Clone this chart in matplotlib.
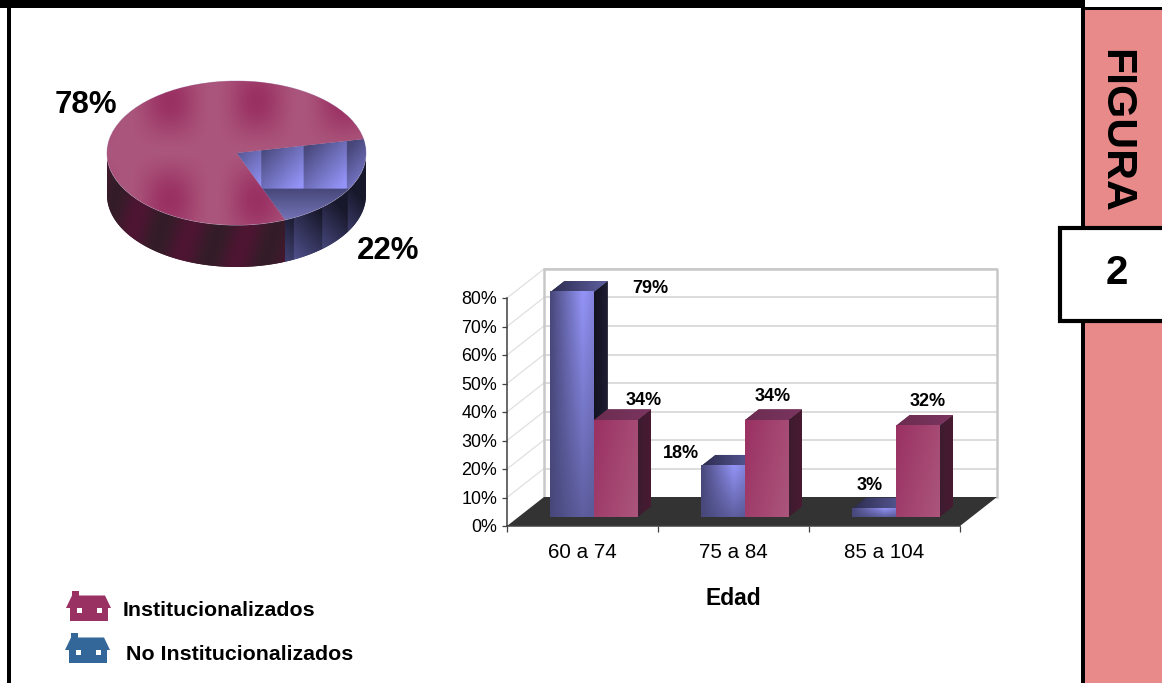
import numpy as np
import matplotlib
matplotlib.use("Agg")
import matplotlib.pyplot as plt
from matplotlib.colors import to_rgb
from matplotlib.patches import Polygon, Rectangle

plt.rcParams['font.family'] = ['Liberation Sans', 'DejaVu Sans']

# data
PIE_VALUES = [22, 78]
PIE_LABELS = ['22%', '78%']
AGE_GROUPS = ['60 a 74', '75 a 84', '85 a 104']
NO_INST = [79, 18, 3]
INST = [34, 34, 32]
Y_TICKS = [0, 10, 20, 30, 40, 50, 60, 70, 80]
LEGEND_NAMES = ['Institucionalizados', 'No Institucionalizados']

W, H = 1162, 683
PINK = '#e88a8a'
BLUE_D, BLUE_L = '#47477a', '#9494f8'
RED_D, RED_L = '#9a3163', '#ab567c'


def lerp(c0, c1, t):
    c0, c1 = np.array(to_rgb(c0)), np.array(to_rgb(c1))
    return c0 + np.clip(t, 0, 1)[..., None] * (c1 - c0)


def px_axes(left, top, right, bottom):
    return fig.add_axes([left / W, 1 - bottom / H, (right - left) / W, (bottom - top) / H])


fig = plt.figure(figsize=(W / 100, H / 100), dpi=100, facecolor='white')

# frame and side panel
bg = fig.add_axes([0, 0, 1, 1], zorder=0)
bg.set_xlim(0, W)
bg.set_ylim(H, 0)
bg.axis('off')
bg.add_patch(Rectangle((1085, 8), 77, H - 8, fc=PINK, ec='none'))
bg.add_patch(Rectangle((0, 0), 1085, 8, fc='black', ec='none'))
bg.add_patch(Rectangle((1085, 7), 77, 3, fc='black', ec='none'))
bg.add_patch(Rectangle((7, 0), 4, H, fc='black', ec='none'))
bg.add_patch(Rectangle((1081, 0), 4, H, fc='black', ec='none'))
bg.add_patch(Rectangle((1060, 227.5), 110, 93, fc='white', ec='black', lw=3))
bg.text(1115, 130.5, 'FIGURA', rotation=-90, fontsize=30.8, fontweight='bold', ha='center', va='center')
bg.text(1117, 273, '2', fontsize=29, fontweight='bold', ha='center', va='center')


def house(x, y, color):
    bg.add_patch(Rectangle((x + 6, y), 7, 5, fc=color, ec='none'))
    bg.add_patch(Polygon([(x, y + 17), (x + 6, y + 4.5), (x + 39, y + 4.5), (x + 45, y + 17)],
                         fc=color, ec='none'))
    bg.add_patch(Rectangle((x + 4, y + 17), 38, 13, fc=color, ec='none'))
    for wx in (x + 11, x + 31):
        bg.add_patch(Rectangle((wx, y + 17), 4.5, 4.5, fc='white', ec='none'))


house(66, 591, '#9a3163')
house(65, 633, '#336699')
bg.text(123, 610, LEGEND_NAMES[0], fontsize=15.4, fontweight='bold', va='center')
bg.text(126, 654, LEGEND_NAMES[1], fontsize=15.4, fontweight='bold', va='center')

# pie, unit circle squeezed to an ellipse by the axes shape
PIE_CX, PIE_CY, PIE_RX, PIE_RY = 236.5, 153, 129.5, 72
PIE_DEPTH = 42 / PIE_RY
ax_pie = px_axes(PIE_CX - PIE_RX, PIE_CY - PIE_RY, PIE_CX + PIE_RX, PIE_CY + PIE_RY + 42)
ax_pie.patch.set_alpha(0)
ax_pie.set_zorder(1)
wedges, _ = ax_pie.pie(PIE_VALUES, startangle=-68, colors=[BLUE_D, RED_D], radius=1,
                       wedgeprops={'edgecolor': '#c8bcd8', 'linewidth': 0.6, 'zorder': 3})
ax_pie.set_aspect('auto')


def pie_image(func, patch, z):
    ext = (-1.02, 1.02, -1.02 - PIE_DEPTH, 1.02)
    u = np.linspace(ext[0], ext[1], 300)
    v = np.linspace(ext[3], ext[2], 300)
    uu, vv = np.meshgrid(u, v)
    im = ax_pie.imshow(func(PIE_CX + uu * PIE_RX, PIE_CY - vv * PIE_RY), extent=ext,
                       aspect='auto', interpolation='bilinear', zorder=z)
    im.set_clip_path(patch)
    im.set_clip_box(fig.bbox)


def red_top(X, Y):
    fx = 0.5 + 0.5 * np.cos(2 * np.pi * (X - 170) / 87)
    fy = 0.5 + 0.5 * np.cos(2 * np.pi * (Y - 101) / 100)
    return lerp(RED_L, RED_D, fx * fy ** 0.8)


def blue_top(X, Y):
    edges = np.array([261, 304, 347])
    i = np.searchsorted(edges, X)
    x0 = np.where(i == 0, 225, edges[np.clip(i - 1, 0, 2)])
    t = 0.6 * (X - x0) / 43 + 0.5 * (Y - 150) / 39
    img = lerp(BLUE_D, BLUE_L, t)
    low = lerp('#47477a', '#7474b8', (Y - 189) / 32)
    img[Y > 189] = low[Y > 189]
    return img


def red_side(X, Y):
    return lerp('#331d28', '#4e1532', 0.5 + 0.5 * np.cos(2 * np.pi * (X - 133 + 0.3 * (Y - 230)) / 57))


def blue_side(X, Y):
    edges = np.array([294, 322, 348])
    i = np.searchsorted(edges, X)
    x1 = edges[np.clip(i, 0, 2)] + np.where(i == 3, 28, 0)
    t = 0.6 * (Y - 215) / 45 + 0.4 * (x1 - X) / 28
    return lerp('#18182c', '#50508c', t)


def side_patch(wedge, color):
    lo = wedge.theta1 % 360
    hi = lo + (wedge.theta2 - wedge.theta1)
    th = np.radians(np.linspace(max(lo, 180), min(hi, 360), 80))
    top = np.c_[np.cos(th), np.sin(th)]
    low = top - [0, PIE_DEPTH]
    p = Polygon(np.r_[top, low[::-1]], fc=color, ec='none', zorder=1)
    ax_pie.add_patch(p)
    return p


pie_image(blue_side, side_patch(wedges[0], '#2a2a4c'), 1.5)
pie_image(red_side, side_patch(wedges[1], '#3f1a2c'), 1.5)
pie_image(blue_top, wedges[0], 3.5)
pie_image(red_top, wedges[1], 3.5)
ax_pie.set_xlim(-1, 1)
ax_pie.set_ylim(-1 - PIE_DEPTH, 1)

bg.set_zorder(2)
bg.patch.set_alpha(0)
bg.text(85.5, 105, PIE_LABELS[1], fontsize=22.5, fontweight='bold', ha='center', va='center')
bg.text(388.5, 251, PIE_LABELS[0], fontsize=22.5, fontweight='bold', ha='center', va='center')

# bars, front plane of the 3D box is the axes
ax = px_axes(507, 298, 960, 526)
ax.patch.set_alpha(0)
ax.set_zorder(1)
x_pos = np.arange(len(AGE_GROUPS)) + 0.5
DX, DY = 37 / (453 / 3), 29 / (228 / 80)   # box depth in data units
BAR_W = 43.3 / (453 / 3)
Z0, Z1 = 0.3, 0.68


def pt(x, y, z):
    return (x + z * DX, y + z * DY)


def shaded(poly, c0, c1, gx, gy, z):
    p = Polygon(poly, fc=c0, ec='none', zorder=z, clip_on=False)
    ax.add_patch(p)
    xs, ys = zip(*poly)
    u, v = np.meshgrid(np.linspace(0, 1, 40), np.linspace(1, 0, 40))
    im = ax.imshow(lerp(c0, c1, gx * u + gy * v), extent=(min(xs), max(xs), min(ys), max(ys)),
                   aspect='auto', interpolation='bilinear', zorder=z + 0.1)
    im.set_clip_path(p)
    im.set_clip_box(fig.bbox)


# floor and walls
xmax = len(AGE_GROUPS)
top_val = Y_TICKS[-1]
for v in Y_TICKS[1:]:
    ax.plot(*zip(pt(0, v, 1), pt(xmax, v, 1)), color='#d2d2d2', lw=1.1, zorder=1, clip_on=False)
    ax.plot(*zip(pt(0, v, 0), pt(0, v, 1)), color='#e0e0e0', lw=0.9, zorder=1, clip_on=False)
ax.plot(*zip(pt(0, 0, 1), pt(0, top_val, 1), pt(xmax, top_val, 1), pt(xmax, 0, 1)),
        color='#c8c8c8', lw=1.8, zorder=1.2, clip_on=False)
ax.add_patch(Polygon([pt(0, 0, 0), pt(xmax, 0, 0), pt(xmax, 0, 1), pt(0, 0, 1)],
                     fc='#333333', ec='none', zorder=1.5, clip_on=False))

base = Z0 * DY
off = Z0 * DX
blue_bars = ax.bar(x_pos + off - BAR_W / 2, NO_INST, BAR_W, bottom=base, color=BLUE_D, zorder=2, clip_on=False)
red_bars = ax.bar(x_pos + off + BAR_W / 2, INST, BAR_W, bottom=base, color=RED_D, zorder=2, clip_on=False)

z = 2.0
for group in zip(blue_bars, red_bars):
    for rect, kind in zip(group, ('blue', 'red')):
        x0, x1 = rect.get_x(), rect.get_x() + rect.get_width()
        y0, y1 = rect.get_y(), rect.get_y() + rect.get_height()
        dz = Z1 - Z0
        side = [(x1, y0), (x1 + dz * DX, y0 + dz * DY), (x1 + dz * DX, y1 + dz * DY), (x1, y1)]
        lid = [(x0, y1), (x1, y1), (x1 + dz * DX, y1 + dz * DY), (x0 + dz * DX, y1 + dz * DY)]
        if kind == 'blue':
            shaded(side, '#12121f', '#3e3e6c', 0.3, 0.0, z)
            shaded(lid, '#2c2c50', '#6464a8', 0.9, 0, z + 0.2)
        else:
            shaded(side, '#3c1c2e', '#4a1a33', 1, 0, z)
            shaded(lid, '#6c2c50', '#7a3560', 1, 0, z + 0.2)
        u, v = np.meshgrid(np.linspace(0, 1, 60), np.linspace(1, 0, 60))
        if kind == 'blue':
            tent = np.where(u < 0.75, u / 0.75, 1 - 0.8 * (u - 0.75))
            img = lerp(BLUE_D, BLUE_L, tent * (0.3 + 0.7 * v))
        else:
            img = lerp(RED_D, RED_L, 0.7 * u + 0.3 * (1 - v))
        ax.imshow(img, extent=(x0, x1, y0, y1), aspect='auto', interpolation='bilinear',
                  zorder=z + 0.4, clip_on=False)
        z += 0.5

ax.set_xlim(0, xmax)
ax.set_ylim(0, top_val)
for s in ('top', 'right'):
    ax.spines[s].set_visible(False)
for s in ('left', 'bottom'):
    ax.spines[s].set_color('#404040')
    ax.spines[s].set_linewidth(1.1)
    ax.spines[s].set_zorder(6)
ax.set_yticks(Y_TICKS)
ax.set_yticklabels(['%d%%' % v for v in Y_TICKS], fontsize=12.9)
ax.set_xticks(range(xmax + 1))
ax.set_xticklabels([])
ax.set_xticks(x_pos, minor=True)
ax.set_xticklabels(AGE_GROUPS, minor=True, fontsize=14.8)
ax.tick_params(axis='y', length=3.5, width=0.9, color='#404040', pad=3.5)
ax.tick_params(axis='x', which='major', length=4, width=0.9, color='#404040')
ax.tick_params(axis='x', which='minor', length=0, pad=12)
ax.set_xlabel('Edad', fontsize=16.5, fontweight='bold', labelpad=18)

# value labels
blue_lab_xy = [(650, 288.5), (681, 453.5), (870, 485.5)]
red_lab_xy = [(644, 400.5), (773, 396.5), (928, 401.5)]
for v, (lx, ly) in zip(NO_INST + INST, blue_lab_xy + red_lab_xy):
    bg.text(lx, ly, '%d%%' % v, fontsize=13, fontweight='bold', ha='center', va='center')

fig.savefig('out.png', dpi=100)
